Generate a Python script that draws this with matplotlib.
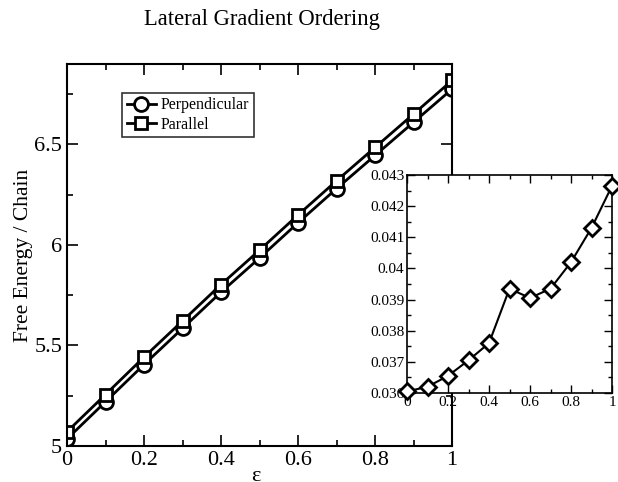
import numpy as np
import matplotlib
matplotlib.use('Agg')
import matplotlib.pyplot as plt
from matplotlib.ticker import MultipleLocator

plt.rcParams['font.family'] = ['Liberation Serif', 'DejaVu Serif']

# data
eps = [0.0, 0.1, 0.2, 0.3, 0.4, 0.5, 0.6, 0.7, 0.8, 0.9, 1.0]
perpendicular = [5.035, 5.22, 5.405, 5.585, 5.765, 5.935, 6.11, 6.28, 6.445, 6.61, 6.775]
parallel = [5.071, 5.256, 5.442, 5.622, 5.803, 5.974, 6.149, 6.319, 6.485, 6.651, 6.818]
difference = [0.03605, 0.03620, 0.03655, 0.03705, 0.03760, 0.03935, 0.03905, 0.03935, 0.04020, 0.04130, 0.04265]
tick_labels = ['0', '0.2', '0.4', '0.6', '0.8', '1']

fig = plt.figure(figsize=(6.18, 4.82), dpi=100)
W, H = 618, 482

# main axes
ax = fig.add_axes([67 / W, 1 - 446 / H, (452 - 67) / W, (446 - 64) / H])
ax.plot(eps, perpendicular, '-o', color='black', lw=2, ms=10, mfc='white', mew=2,
        label='Perpendicular')
ax.plot(eps, parallel, '-s', color='black', lw=2, ms=9, mfc='white', mew=2,
        label='Parallel')
ax.set_xlim(0, 1)
ax.set_ylim(5, 6.9)
ax.set_xticks([0, 0.2, 0.4, 0.6, 0.8, 1.0])
ax.set_xticklabels(tick_labels)
ax.xaxis.set_minor_locator(MultipleLocator(0.1))
ax.set_yticks([5, 5.5, 6, 6.5])
ax.set_yticklabels(['5', '5.5', '6', '6.5'])
ax.yaxis.set_minor_locator(MultipleLocator(0.25))
ax.tick_params(which='both', direction='in', top=True, right=True, labelsize=16, width=1.2)
ax.tick_params(which='major', length=8)
ax.tick_params(which='minor', length=4)
for s in ax.spines.values():
    s.set_linewidth(1.5)
ax.set_ylabel('Free Energy / Chain', fontsize=15.5, labelpad=1)
ax.text(0.49, -0.055, 'ε', transform=ax.transAxes, fontsize=16, ha='center', va='top')
fig.text(262 / W, 1 - 20 / H, 'Lateral Gradient Ordering', fontsize=16.3,
         ha='center', va='center')

leg = ax.legend(loc='upper left', bbox_to_anchor=(0.143, 0.925), fontsize=11.5,
                frameon=True, fancybox=False, edgecolor='black', handlelength=1.8,
                handletextpad=0.3, borderpad=0.3, labelspacing=0.2, borderaxespad=0)
leg.get_frame().set_linewidth(1.2)

# inset
ins = fig.add_axes([407 / W, 1 - 393 / H, (612 - 407) / W, (393 - 175) / H])
ins.plot(eps, difference, '-D', color='black', lw=1.5, ms=8, mfc='white', mew=2,
         clip_on=False, zorder=5)
ins.set_xlim(0, 1)
ins.set_ylim(0.036, 0.043)
ins.set_xticks([0, 0.2, 0.4, 0.6, 0.8, 1.0])
ins.set_xticklabels(tick_labels)
ins.xaxis.set_minor_locator(MultipleLocator(0.1))
ins.set_yticks([0.036, 0.037, 0.038, 0.039, 0.04, 0.041, 0.042, 0.043])
ins.set_yticklabels(['0.036', '0.037', '0.038', '0.039', '0.04', '0.041', '0.042', '0.043'])
ins.yaxis.set_minor_locator(MultipleLocator(0.0005))
ins.tick_params(which='both', direction='in', top=True, right=True, labelsize=11, width=1, pad=2)
ins.tick_params(which='major', length=6)
ins.tick_params(which='minor', length=3)
for s in ins.spines.values():
    s.set_linewidth(1.2)

fig.savefig('out.png', dpi=100)
